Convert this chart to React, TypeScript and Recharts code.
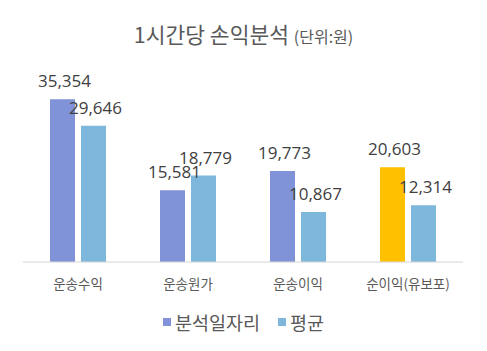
import { BarChart, Bar, XAxis, YAxis, Cell, LabelList } from "recharts";

const categories = ["운송수익", "운송원가", "운송이익", "순이익(유보포)"];
const analysis = [35354, 15581, 19773, 20603];
const average = [29646, 18779, 10867, 12314];
const analysisColors = ["#8193D8", "#8193D8", "#8193D8", "#FFC000"];

const series = [
  { key: "analysis", name: "분석일자리", color: "#8193D8" },
  { key: "average", name: "평균", color: "#7EB7DC" },
];

const data = categories.map((c, i) => ({
  name: c,
  analysis: analysis[i],
  average: average[i],
}));

const font = "'Noto Sans CJK KR', 'Noto Sans', sans-serif";
const numFont = "'Open Sans', 'Noto Sans CJK KR', sans-serif";
const fmt = (v: any) => Number(v).toLocaleString("en-US");

export default function App() {
  return (
    <div style={{ position: "relative", width: 487, height: 351, margin: -8, background: "#fff", fontFamily: font }}>
      <div
        style={{
          position: "absolute",
          top: 19,
          left: 0,
          width: 487,
          textAlign: "center",
          color: "#595959",
          fontSize: 21.5,
          lineHeight: "30px",
        }}
      >
        1시간당 손익분석 <span style={{ fontSize: 16 }}>(단위:원)</span>
      </div>
      <BarChart
        width={487}
        height={351}
        data={data}
        margin={{ top: 78, right: 24, left: 23, bottom: 59 }}
        barSize={25}
        barGap={6}
      >
        <XAxis
          dataKey="name"
          height={30}
          tickLine={false}
          tickSize={0}
          tickMargin={17}
          axisLine={{ stroke: "#D4D4D4", strokeWidth: 1 }}
          tick={{ fontSize: 13.5, fill: "#595959", fontFamily: font }}
        />
        <YAxis hide domain={[0, 40000]} />
        <Bar dataKey="analysis" name="분석일자리" fill={series[0].color} isAnimationActive={false}>
          {data.map((d, i) => (
            <Cell key={d.name} fill={analysisColors[i]} />
          ))}
          <LabelList
            dataKey="analysis"
            position="top"
            offset={12}
            dx={2}
            formatter={fmt}
            style={{ fontSize: 17, fill: "#404040", fontFamily: numFont }}
          />
        </Bar>
        <Bar dataKey="average" name="평균" fill={series[1].color} isAnimationActive={false}>
          <LabelList
            dataKey="average"
            position="top"
            offset={12}
            dx={2}
            formatter={fmt}
            style={{ fontSize: 17, fill: "#404040", fontFamily: numFont }}
          />
        </Bar>
      </BarChart>
      <div
        style={{
          position: "absolute",
          top: 309,
          left: 0,
          width: 487,
          display: "flex",
          justifyContent: "center",
          gap: 18,
          fontSize: 18.5,
          color: "#595959",
          lineHeight: "26px",
        }}
      >
        {series.map((s) => (
          <div key={s.key} style={{ display: "flex", alignItems: "center" }}>
            <span style={{ width: 8, height: 8, background: s.color, marginRight: 4 }} />
            {s.name}
          </div>
        ))}
      </div>
    </div>
  );
}
